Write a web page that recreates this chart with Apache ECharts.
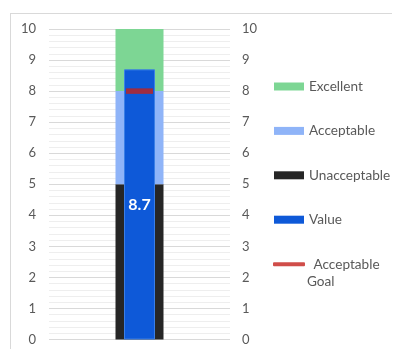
<!DOCTYPE html>
<html>
<head>
<meta charset="utf-8">
<script src="https://cdn.jsdelivr.net/npm/echarts@6/dist/echarts.min.js"></script>
<style>
  html, body { margin: 0; padding: 0; background: #fff; }
  #chart { width: 393px; height: 349px; }
</style>
</head>
<body>
<div id="chart"></div>
<script>
// Bullet chart: qualitative bands, actual value and goal marker
const categories = [''];
const unacceptable = [5];   // band 0 - 5
const acceptable = [3];     // band 5 - 8
const excellent = [2];      // band 8 - 10
const actual = [8.7];
const goal = [8];
const yTicks = [0, 1, 2, 3, 4, 5, 6, 7, 8, 9, 10];

const FONT = 'Lato, "Open Sans", sans-serif';
const GREY = '#595959';

const chart = echarts.init(document.getElementById('chart'));

const axisLabelCommon = { color: GREY, fontSize: 13, fontFamily: FONT };
const legendText = { color: GREY, fontSize: 13.6, fontFamily: FONT, lineHeight: 16 };

chart.setOption({
  animation: false,
  grid: { left: 49, right: 163, top: 29, bottom: 9.5 },
  xAxis: [
    { type: 'category', data: categories, show: false },
    { type: 'category', data: categories, show: false }
  ],
  yAxis: [
    {
      type: 'value', min: yTicks[0], max: yTicks[yTicks.length - 1], interval: 1,
      axisLine: { show: false }, axisTick: { show: false },
      axisLabel: Object.assign({ margin: 13 }, axisLabelCommon),
      splitLine: { lineStyle: { color: '#d9d9d9', width: 1 } },
      minorTick: { show: false, splitNumber: 5 },
      minorSplitLine: { show: true, lineStyle: { color: '#eeeeee', width: 1 } }
    },
    {
      type: 'value', min: yTicks[0], max: yTicks[yTicks.length - 1], interval: 1,
      position: 'right',
      axisLine: { show: false }, axisTick: { show: false },
      axisLabel: Object.assign({ margin: 12 }, axisLabelCommon),
      splitLine: { show: false }
    }
  ],
  legend: [
    {
      orient: 'vertical', left: 274, top: 78.5, padding: 0,
      itemWidth: 30, itemHeight: 8, itemGap: 28.4,
      icon: 'rect',
      itemStyle: { borderWidth: 0 },
      data: ['Excellent', 'Acceptable', 'Unacceptable', 'Value'],
      textStyle: legendText
    },
    {
      orient: 'vertical', left: 273, top: 256.3, padding: 0,
      itemWidth: 32, itemHeight: 4,
      icon: 'roundRect',
      data: ['Acceptable Goal'],
      formatter: () => ' Acceptable',
      textStyle: legendText
    }
  ],
  graphic: [
    { type: 'line', shape: { x1: 10, y1: 13.5, x2: 392, y2: 13.5 }, style: { stroke: '#d9d9d9', lineWidth: 1 }, silent: true },
    { type: 'line', shape: { x1: 10.5, y1: 13, x2: 10.5, y2: 349 }, style: { stroke: '#d9d9d9', lineWidth: 1 }, silent: true },
    { type: 'text', left: 307, top: 274.5, style: { text: 'Goal', fill: GREY, font: '13.6px ' + FONT }, silent: true }
  ],
  series: [
    { name: 'Unacceptable', type: 'bar', stack: 'bands', xAxisIndex: 0, yAxisIndex: 0,
      data: unacceptable, barWidth: 48, itemStyle: { color: '#262626' } },
    { name: 'Acceptable', type: 'bar', stack: 'bands', xAxisIndex: 0, yAxisIndex: 0,
      data: acceptable, barWidth: 48, itemStyle: { color: '#8fb4f8' } },
    { name: 'Excellent', type: 'bar', stack: 'bands', xAxisIndex: 0, yAxisIndex: 0,
      data: excellent, barWidth: 48, itemStyle: { color: '#7dd694' } },
    { name: 'Value', type: 'bar', xAxisIndex: 1, yAxisIndex: 0, z: 3,
      data: actual, barWidth: 31,
      itemStyle: { color: '#0e59d8', borderColor: '#3b7fe6', borderWidth: 1 },
      label: { show: true, position: 'inside', color: '#fff', fontSize: 16, fontWeight: 'bold', fontFamily: FONT } },
    { name: 'Acceptable Goal', type: 'scatter', xAxisIndex: 0, yAxisIndex: 0, z: 5,
      data: goal, symbol: 'rect', symbolSize: [27, 5.5],
      itemStyle: { color: '#c4201b' } }
  ]
});
</script>
</body>
</html>
